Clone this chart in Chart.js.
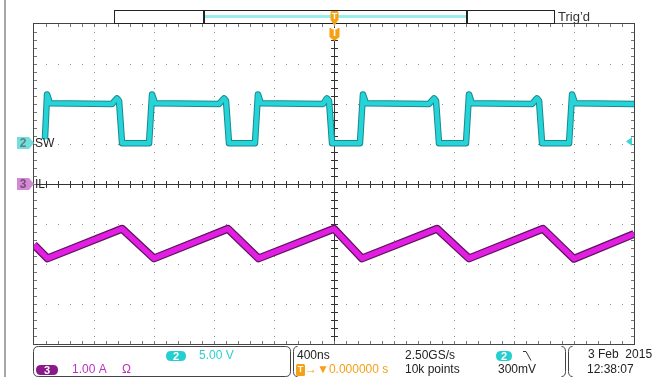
<!DOCTYPE html>
<html><head><meta charset="utf-8">
<script src="https://cdn.jsdelivr.net/npm/chart.js@4.4.1/dist/chart.umd.min.js"></script>
<style>html,body{margin:0;padding:0;background:#fff;overflow:hidden}canvas{display:block}</style>
</head><body>
<canvas id="c" width="653" height="377"></canvas>
<script>
// ---- data (time in ns, SW in volts, IL in amps) ----
const swTime = [-1927,-1913,-1893,-1480,-1447,-1433,-1413,-1233,-1213,-1193,-767,-733,-720,-700,-527,-507,-487,-73,-47,-33,-13,173,193,213,633,667,680,700,880,900,920,1320,1353,1367,1387,1567,1587,1607,2000];
const swVolt = [0.6,6.2,5.1,5.0,5.7,5.4,0.1,0.1,6.2,5.1,5.0,5.7,5.4,0.1,0.1,6.2,5.1,5.0,5.7,5.4,0.1,0.1,6.2,5.1,5.0,5.7,5.4,0.1,0.1,6.2,5.1,5.0,5.7,5.4,0.1,0.1,6.2,5.1,5.0];
const ilTime = [-2000,-1910,-1413,-1200,-707,-503,0,187,687,900,1393,1600,2000];
const ilAmp  = [-1.52,-1.86,-1.12,-1.86,-1.12,-1.86,-1.12,-1.86,-1.12,-1.86,-1.12,-1.87,-1.25];
const timeDivs = [-2000,-1600,-1200,-800,-400,0,400,800,1200,1600,2000];
const ampDivs = [-4,-3,-2,-1,0,1,2,3,4];
const channelNames = ['SW','IL'];
const infoTexts = {ch2Scale:'5.00 V', ch3Scale:'1.00 A', ohm:'\u03A9', timebase:'400ns', trigPos:'\u2192\u25BC0.000000 s',
  rate:'2.50GS/s', points:'10k points', trigLevel:'300mV', date:'3 Feb  2015', time:'12:38:07', status:"Trig\u2019d"};

const swPts = swTime.map((t,i)=>({x:t,y:swVolt[i]}));
const ilPts = ilTime.map((t,i)=>({x:t,y:ilAmp[i]}));

const FONT = '"Liberation Sans", Arial, sans-serif';

function rr(ctx,x,y,w,h,r){ctx.beginPath();ctx.moveTo(x+r,y);ctx.lineTo(x+w-r,y);ctx.quadraticCurveTo(x+w,y,x+w,y+r);ctx.lineTo(x+w,y+h-r);ctx.quadraticCurveTo(x+w,y+h,x+w-r,y+h);ctx.lineTo(x+r,y+h);ctx.quadraticCurveTo(x,y+h,x,y+h-r);ctx.lineTo(x,y+r);ctx.quadraticCurveTo(x,y,x+r,y);ctx.closePath();}
function txt(ctx,s,x,y,color,size,align,weight){ctx.fillStyle=color;ctx.font=(weight||'')+' '+(size||12)+'px '+FONT;ctx.textAlign=align||'left';ctx.textBaseline='middle';ctx.fillText(s,x,y);}

const scopePlugin = {
  id:'scope',
  beforeDraw(chart){const c=chart.ctx;c.save();c.fillStyle='#fff';c.fillRect(0,0,chart.width,chart.height);c.restore();},
  beforeDatasetsDraw(chart){
    const {ctx, chartArea:a, scales:{x,yIL}} = chart;
    ctx.save();
    const L=Math.round(a.left), R=Math.round(a.right), T=Math.round(a.top), B=Math.round(a.bottom);
    const cx=Math.round(x.getPixelForValue(0)), cy=Math.round(yIL.getPixelForValue(0));
    ctx.fillStyle='#8c8c8c';
    timeDivs.forEach(t=>{ if(t===0||t===timeDivs[0]||t===timeDivs[timeDivs.length-1])return;
      const px=Math.round(x.getPixelForValue(t)); for(let py=T+8;py<B;py+=8) ctx.fillRect(px,py,1,1);});
    ampDivs.forEach(d=>{ if(d===0||d===ampDivs[0]||d===ampDivs[ampDivs.length-1])return;
      const py=Math.round(yIL.getPixelForValue(d)); for(let px=L+12;px<R;px+=12) ctx.fillRect(px,py,1,1);});
    ctx.fillStyle='#333';
    ctx.fillRect(cx,T,1,B-T); ctx.fillRect(L,cy,R-L,1);
    for(let px=L+12;px<R;px+=12) ctx.fillRect(px,cy-3,1,7);
    for(let py=T+8;py<B;py+=8) ctx.fillRect(cx-3,py,7,1);
    ctx.fillStyle='#444';
    ctx.fillRect(L-1,T-1,1,B-T+2); ctx.fillRect(R,T-1,1,B-T+2);
    ctx.fillRect(L-1,T-1,R-L+2,1); ctx.fillRect(L-1,B,R-L+2,1);
    ctx.fillStyle='#777';
    for(let px=L+12;px<R;px+=12){ctx.fillRect(px,T,1,3);ctx.fillRect(px,B-3,1,3);}
    for(let py=T+8;py<B;py+=8){ctx.fillRect(L,py,3,1);ctx.fillRect(R-3,py,3,1);}
    ctx.restore();
  },
  afterDraw(chart){
    const {ctx, chartArea:a, scales:{x,ySW,yIL}} = chart;
    ctx.save();
    const cx=Math.round(x.getPixelForValue(0));
    ctx.fillStyle='#a6a6a6'; ctx.fillRect(4,0,2,377);
    // top record bar
    ctx.fillStyle='#fff'; ctx.fillRect(114,10,440,13);
    ctx.strokeStyle='#222'; ctx.lineWidth=1; ctx.strokeRect(114.5,10.5,440,13);
    ctx.fillStyle='#222'; ctx.fillRect(203,10,2,14); ctx.fillRect(466,10,2,14);
    ctx.fillStyle='#96eeee'; ctx.fillRect(205,15,261,3);
    txt(ctx,infoTexts.status,558,17,'#333',13);
    // trigger position markers
    ctx.fillStyle='#f5a015';
    rr(ctx,cx-3.5,11,8,10,1.5); ctx.fill();
    ctx.beginPath(); ctx.moveTo(cx-2.5,21); ctx.lineTo(cx+3.5,21); ctx.lineTo(cx+0.5,26); ctx.closePath(); ctx.fill();
    txt(ctx,'T',cx+0.5,16.5,'#fff',9,'center','bold');
    ctx.fillStyle='#f5a015';
    ctx.beginPath(); ctx.moveTo(cx-4.5,28); ctx.lineTo(cx+5.5,28); ctx.lineTo(cx+5.5,37); ctx.lineTo(cx+0.5,41); ctx.lineTo(cx-4.5,37); ctx.closePath(); ctx.fill();
    txt(ctx,'T',cx+0.5,33,'#fff',10,'center','bold');
    // channel ground markers
    const g2=ySW.getPixelForValue(0)-1, g3=yIL.getPixelForValue(0);
    function marker(yc,fill,col,label,name){
      ctx.fillStyle=fill; ctx.beginPath(); ctx.moveTo(17,yc-6); ctx.lineTo(29,yc-6); ctx.lineTo(34,yc); ctx.lineTo(29,yc+6); ctx.lineTo(17,yc+6); ctx.closePath(); ctx.fill();
      txt(ctx,label,23,yc+0.5,col,12,'center','bold');
      txt(ctx,name,35,yc+0.5,'#222',12);
    }
    marker(g2,'#72dede','#5e8080','2',channelNames[0]);
    marker(g3,'#d28ad2','#7a4a7a','3',channelNames[1]);
    const tl=ySW.getPixelForValue(0.3);
    ctx.fillStyle='#3fd4d4'; ctx.beginPath(); ctx.moveTo(626,tl); ctx.lineTo(632,tl-4.5); ctx.lineTo(632,tl+4.5); ctx.closePath(); ctx.fill();
    // bottom info panel
    ctx.strokeStyle='#444'; ctx.lineWidth=1;
    rr(ctx,33.5,346.5,257,30,5); ctx.stroke();
    function brk(xe,dir){ctx.beginPath();ctx.moveTo(xe+dir*4,346.5);ctx.quadraticCurveTo(xe,346.5,xe,351.5);ctx.lineTo(xe,371.5);ctx.quadraticCurveTo(xe,376.5,xe+dir*4,376.5);ctx.stroke();}
    brk(293.5,1); brk(565.5,-1); brk(568.5,1);
    ctx.fillStyle='#24cfcf'; rr(ctx,166,351,20,10,5); ctx.fill();
    txt(ctx,'2',176,356.5,'#fff',11,'center','bold');
    txt(ctx,infoTexts.ch2Scale,199,356,'#2ccfcf',12);
    ctx.fillStyle='#8a1a8a'; rr(ctx,36,365,22,10,5); ctx.fill();
    txt(ctx,'3',47,370.5,'#fff',11,'center','bold');
    txt(ctx,infoTexts.ch3Scale,72,370,'#c030c0',12);
    txt(ctx,infoTexts.ohm,122,370,'#c030c0',12);
    txt(ctx,infoTexts.timebase,297,356,'#222',12);
    ctx.fillStyle='#f5a015'; rr(ctx,296,364,9,12,1.5); ctx.fill();
    txt(ctx,'T',300.5,370,'#fff',9,'center','bold');
    txt(ctx,infoTexts.trigPos,305,370,'#f5a015',12);
    txt(ctx,infoTexts.rate,405,356,'#222',12);
    txt(ctx,infoTexts.points,405,370,'#222',12);
    ctx.fillStyle='#24cfcf'; rr(ctx,496,351,16,10,5); ctx.fill();
    txt(ctx,'2',504,356.5,'#fff',11,'center','bold');
    ctx.strokeStyle='#333'; ctx.beginPath(); ctx.moveTo(523,351.5); ctx.lineTo(526,351.5); ctx.lineTo(531,360.5); ctx.stroke();
    txt(ctx,infoTexts.trigLevel,498,370,'#222',12);
    txt(ctx,infoTexts.date,588,355,'#222',12);
    txt(ctx,infoTexts.time,587,370,'#222',12);
    ctx.restore();
  }
};

new Chart(document.getElementById('c'), {
  type:'line',
  data:{datasets:[
    {label:'SW', data:swPts, borderColor:'#26d4d8', borderWidth:4.5, yAxisID:'ySW', order:1},
    {label:'SW persistence', data:swPts, borderColor:'#178a90', borderWidth:6.5, yAxisID:'ySW', order:2},
    {label:'IL', data:ilPts, borderColor:'#e31ee3', borderWidth:5.5, yAxisID:'yIL', order:3},
    {label:'IL persistence', data:ilPts, borderColor:'#5e145e', borderWidth:8, yAxisID:'yIL', order:4}
  ]},
  options:{
    responsive:false, animation:false, devicePixelRatio:1,
    layout:{padding:{left:34,top:24,right:19,bottom:33}},
    plugins:{legend:{display:false},tooltip:{enabled:false}},
    elements:{point:{radius:0},line:{tension:0,borderJoinStyle:'round',borderCapStyle:'butt',fill:false}},
    scales:{
      x:{type:'linear',min:timeDivs[0],max:timeDivs[timeDivs.length-1],display:false},
      ySW:{type:'linear',min:-25,max:15,display:false},
      yIL:{type:'linear',min:ampDivs[0],max:ampDivs[ampDivs.length-1],display:false}
    }
  },
  plugins:[scopePlugin]
});
</script>
</body></html>
